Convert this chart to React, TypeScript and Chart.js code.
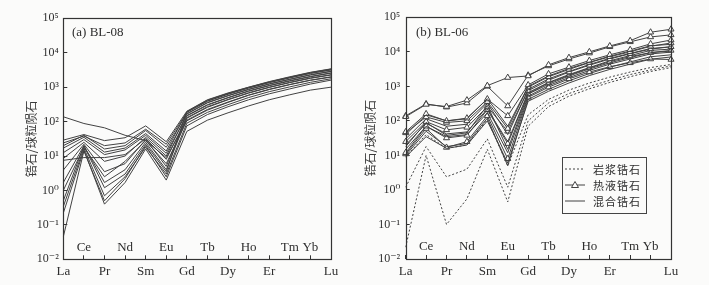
import React, { useEffect, useRef } from 'react';
import { Chart, registerables } from 'chart.js';

Chart.register(...registerables);

// ---------- data ----------
const ELEMENTS = ['La', 'Ce', 'Pr', 'Nd', 'Sm', 'Eu', 'Gd', 'Tb', 'Dy', 'Ho', 'Er', 'Tm', 'Yb', 'Lu'];
const UPPER_LABEL_INDEX = [1, 3, 5, 7, 9, 11, 12];
const Y_TICK_VALUES = [0.01, 0.1, 1, 10, 100, 1000, 10000, 100000];
const Y_TICK_LABELS = ['10⁻²', '10⁻¹', '10⁰', '10¹', '10²', '10³', '10⁴', '10⁵'];
const Y_TITLE = '锆石/球粒陨石';
const PANEL_A_TITLE = '(a) BL-08';
const PANEL_B_TITLE = '(b) BL-06';
const LEGEND_LABELS = ['岩浆锆石', '热液锆石', '混合锆石'];

// Panel (a) BL-08
const a01 = [138, 88, 66, 40, 28, 9, 110, 225, 370, 590, 870, 1200, 1600, 2000];
const a02 = [29, 42, 28, 34, 75, 26, 200, 430, 680, 1000, 1450, 2000, 2700, 3400];
const a03 = [24, 38, 20, 24, 60, 22, 185, 390, 620, 940, 1350, 1850, 2500, 3150];
const a04 = [20, 40, 16, 20, 55, 18, 170, 360, 570, 870, 1250, 1700, 2300, 2900];
const a05 = [17, 35, 13, 17, 45, 14, 190, 400, 640, 960, 1380, 1900, 2550, 3200];
const a06 = [12.5, 30, 11, 15, 40, 12, 150, 310, 500, 780, 1120, 1550, 2050, 2600];
const a07 = [7.5, 9, 9, 11, 32, 8, 130, 270, 440, 690, 1000, 1380, 1850, 2300];
const a08 = [8.5, 25, 7, 10, 35, 10, 165, 350, 560, 850, 1220, 1680, 2250, 2850];
const a09 = [3.9, 22, 3.5, 6, 30, 5, 145, 300, 490, 760, 1100, 1500, 2000, 2550];
const a10 = [1.7, 20, 1.7, 4, 25, 4, 125, 260, 430, 670, 980, 1350, 1800, 2250];
const a11 = [1.0, 18, 2.5, 7, 28, 6, 105, 215, 360, 580, 850, 1180, 1580, 1950];
const a12 = [0.34, 17, 0.7, 2.5, 18, 3, 90, 185, 310, 500, 740, 1020, 1380, 1750];
const a13 = [0.22, 15, 0.4, 1.7, 16, 2, 52, 110, 180, 285, 430, 600, 820, 1000];
const a14 = [0.045, 14, 0.5, 2.2, 20, 2.5, 75, 160, 270, 430, 640, 890, 1230, 1600];
const a15 = [0.5, 20, 1.2, 3, 22, 3.5, 195, 420, 660, 990, 1420, 1950, 2650, 3350];
const PANEL_A = [a01, a02, a03, a04, a05, a06, a07, a08, a09, a10, a11, a12, a13, a14, a15];

// Panel (b) BL-06 — magmatic zircon (dotted)
const g1 = [1.2, 18, 2.4, 4, 30, 1.2, 100, 330, 620, 1000, 1500, 2200, 3000, 3900];
const g2 = [0.022, 10, 0.1, 0.55, 15, 0.45, 70, 260, 520, 850, 1300, 1900, 2700, 3500];
const g3 = [9, 40, 16, 20, 110, 5, 150, 420, 780, 1250, 1850, 2600, 3500, 4300];
const MAGMATIC = [g1, g2, g3];

// hydrothermal zircon (triangles)
const h1 = [132, 300, 260, 400, 1050, 1800, 2000, 4200, 6800, 10000, 14800, 21000, 37000, 45000];
const h2 = [140, 310, 250, 330, 1000, 270, 2100, 3900, 6200, 9200, 14000, 19500, 27000, 31000];
const h3 = [48, 160, 100, 120, 430, 140, 1100, 2300, 3600, 5600, 8200, 11500, 17000, 22000];
const h4 = [45, 130, 90, 100, 360, 60, 950, 1900, 3100, 4900, 7200, 10000, 14500, 18000];
const h5 = [25, 95, 55, 65, 260, 50, 750, 1500, 2600, 4100, 6200, 8800, 12000, 14000];
const h6 = [12, 70, 32, 38, 210, 22, 620, 1250, 2100, 3400, 5200, 7300, 9500, 11000];
const h7 = [11, 60, 17, 25, 140, 8, 480, 950, 1650, 2600, 3700, 4800, 6200, 6000];
const HYDROTHERMAL = [h1, h2, h3, h4, h5, h6, h7];

// mixed zircon (solid)
const m1 = [40, 150, 100, 115, 440, 70, 1000, 2000, 3300, 5000, 7500, 10500, 15000, 16500];
const m2 = [30, 115, 70, 80, 330, 40, 820, 1650, 2700, 4300, 6500, 9000, 12500, 14000];
const m3 = [20, 85, 42, 48, 220, 25, 660, 1300, 2200, 3500, 5500, 7800, 11000, 12000];
const m4 = [15, 70, 35, 40, 170, 12, 520, 1050, 1800, 2900, 4400, 6200, 8700, 9800];
const m5 = [10, 50, 18, 22, 120, 5, 420, 820, 1450, 2350, 3600, 5100, 7200, 8200];
const m6 = [9, 35, 16, 20, 100, 6, 370, 720, 1250, 2050, 3100, 4400, 6100, 7100];
const m7 = [18, 90, 38, 45, 280, 15, 600, 1150, 2000, 3200, 4800, 6800, 9500, 10500];
const MIXED = [m1, m2, m3, m4, m5, m6, m7];

// ---------- style ----------
const SERIF = "'Liberation Serif', 'Times New Roman', 'DejaVu Serif', serif";
const CJK = "'Noto Sans CJK SC', 'Noto Sans CJK TC', sans-serif";
const INK = '#2e2e2e';
const LINE = '#424242';

const framePlugin = {
  id: 'frame',
  afterDraw(chart: any) {
    const { ctx, chartArea } = chart;
    const l = Math.round(chartArea.left) + 0.5;
    const t = Math.round(chartArea.top) + 0.5;
    const r = Math.round(chartArea.right) + 0.5;
    const b = Math.round(chartArea.bottom) + 0.5;
    ctx.save();
    ctx.strokeStyle = '#333';
    ctx.lineWidth = 1.2;
    ctx.strokeRect(l, t, r - l, b - t);
    ctx.restore();
  },
};

function buildOptions(p: { top: number; right: number; yWidth: number; xHeight: number; titlePad: number; labelPad: number }) {
  return {
    responsive: false,
    animation: false,
    events: [],
    layout: { padding: { left: 0, top: p.top, right: p.right, bottom: 0 } },
    plugins: { legend: { display: false }, tooltip: { enabled: false }, title: { display: false } },
    scales: {
      x: {
        type: 'category',
        offset: false,
        border: { display: false },
        grid: { display: true, drawOnChartArea: false, drawTicks: true, tickLength: -4, color: '#333', lineWidth: 1 },
        ticks: {
          autoSkip: false,
          maxRotation: 0,
          minRotation: 0,
          mirror: true,
          padding: -0.2,
          color: INK,
          font: { family: SERIF, size: 13, lineHeight: 24.4 / 13 },
          callback: (_v: any, i: number) =>
            UPPER_LABEL_INDEX.includes(i) ? [ELEMENTS[i], ''] : ['', ELEMENTS[i]],
        },
        afterFit: (s: any) => {
          s.height = p.xHeight;
        },
      },
      y: {
        type: 'logarithmic',
        min: 0.01,
        max: 100000,
        border: { display: false },
        grid: { display: true, drawOnChartArea: false, drawTicks: true, tickLength: -4, color: '#333', lineWidth: 1 },
        afterBuildTicks: (s: any) => {
          s.ticks = Y_TICK_VALUES.map((v) => ({ value: v }));
        },
        ticks: {
          padding: p.labelPad,
          color: INK,
          font: { family: SERIF, size: 12 },
          callback: (v: any) => {
            const i = Y_TICK_VALUES.findIndex((t) => Math.abs(Math.log10(t) - Math.log10(v)) < 1e-6);
            return i >= 0 ? Y_TICK_LABELS[i] : '';
          },
        },
        title: {
          display: true,
          text: Y_TITLE,
          color: '#3a3a3a',
          font: { family: CJK, size: 12 },
          padding: { top: p.titlePad, bottom: 0 },
        },
        afterFit: (s: any) => {
          s.width = p.yWidth;
        },
      },
    },
  };
}

function lineDataset(values: number[], kind: 'plain' | 'dotted' | 'triangle') {
  return {
    data: values,
    borderColor: LINE,
    borderWidth: 1,
    borderDash: kind === 'dotted' ? [2, 2] : [],
    pointRadius: kind === 'triangle' ? 3.5 : 0,
    pointStyle: 'triangle',
    pointBackgroundColor: '#ffffff',
    pointBorderColor: LINE,
    pointBorderWidth: 1,
    tension: 0,
    fill: false,
  };
}

function PanelChart(props: { datasets: any[]; opts: any; width: number; left: number }) {
  const ref = useRef<HTMLCanvasElement | null>(null);
  useEffect(() => {
    if (!ref.current) return;
    const chart = new Chart(ref.current, {
      type: 'line',
      data: { labels: ELEMENTS, datasets: props.datasets },
      options: props.opts,
      plugins: [framePlugin],
    } as any);
    return () => chart.destroy();
  }, []);
  return (
    <canvas
      ref={ref}
      width={props.width}
      height={285}
      style={{ position: 'absolute', left: props.left, top: 0, width: props.width, height: 285 }}
    />
  );
}

function LegendSample({ kind }: { kind: 'dotted' | 'triangle' | 'plain' }) {
  return (
    <svg width={22} height={10} style={{ display: 'block' }}>
      <line
        x1={1}
        y1={5}
        x2={21}
        y2={5}
        stroke={LINE}
        strokeWidth={1}
        strokeDasharray={kind === 'dotted' ? '2 2' : undefined}
      />
      {kind === 'triangle' && <polygon points="11,1.5 14.5,7.5 7.5,7.5" fill="#fff" stroke={LINE} strokeWidth={1} />}
    </svg>
  );
}

export default function App() {
  const datasetsA = PANEL_A.map((v) => lineDataset(v, 'plain'));
  const datasetsB = [
    ...MAGMATIC.map((v) => lineDataset(v, 'dotted')),
    ...MIXED.map((v) => lineDataset(v, 'plain')),
    ...HYDROTHERMAL.map((v) => lineDataset(v, 'triangle')),
  ];
  const optsA = buildOptions({ top: 18.3, right: 23, yWidth: 63.3, xHeight: 25.7, titlePad: 24.5, labelPad: 8.5 });
  const optsB = buildOptions({ top: 17.3, right: 38, yWidth: 51.7, xHeight: 26, titlePad: 8.8, labelPad: 9.5 });

  const titleStyle: React.CSSProperties = {
    position: 'absolute',
    top: 24,
    fontFamily: SERIF,
    fontSize: 13,
    lineHeight: '16px',
    color: INK,
    whiteSpace: 'nowrap',
  };
  const rowStyle = (top: number): React.CSSProperties => ({
    position: 'absolute',
    left: 1,
    top,
    display: 'flex',
    alignItems: 'center',
    height: 14,
  });
  const textStyle: React.CSSProperties = {
    position: 'absolute',
    left: 29,
    fontFamily: CJK,
    fontSize: 11,
    letterSpacing: 1,
    color: INK,
    whiteSpace: 'nowrap',
    lineHeight: '14px',
  };

  return (
    <div
      style={{
        position: 'fixed',
        left: 0,
        top: 0,
        width: 709,
        height: 285,
        background: '#fbfbfa',
        overflow: 'hidden',
      }}
    >
      <PanelChart datasets={datasetsA} opts={optsA} width={354} left={0} />
      <PanelChart datasets={datasetsB} opts={optsB} width={355} left={354} />
      <div style={{ ...titleStyle, left: 72 }}>{PANEL_A_TITLE}</div>
      <div style={{ ...titleStyle, left: 416 }}>{PANEL_B_TITLE}</div>
      <div
        style={{
          position: 'absolute',
          left: 562,
          top: 157,
          width: 83,
          height: 55,
          border: '1px solid #444',
          background: 'transparent',
        }}
      >
        <div style={rowStyle(4)}>
          <LegendSample kind="dotted" />
          <span style={textStyle}>{LEGEND_LABELS[0]}</span>
        </div>
        <div style={rowStyle(20)}>
          <LegendSample kind="triangle" />
          <span style={textStyle}>{LEGEND_LABELS[1]}</span>
        </div>
        <div style={rowStyle(36)}>
          <LegendSample kind="plain" />
          <span style={textStyle}>{LEGEND_LABELS[2]}</span>
        </div>
      </div>
    </div>
  );
}
